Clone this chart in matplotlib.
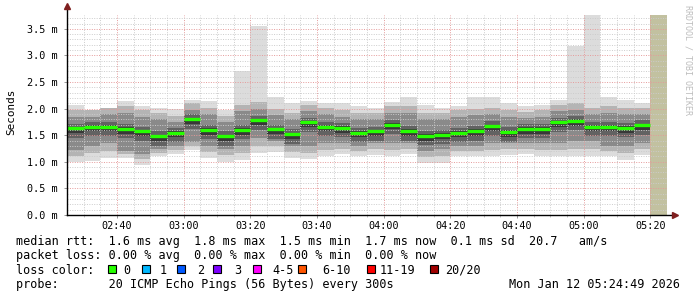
import numpy as np
import matplotlib
matplotlib.use('Agg')
import matplotlib.pyplot as plt
from matplotlib.patches import Rectangle

# smokeping rtt data, 5 minute steps starting 02:25 (values in ms)
rtt_lo = [1.00, 1.02, 1.07, 1.08, 0.94, 1.10, 1.15, 1.22, 1.08, 0.99, 1.03, 1.16,
          1.19, 1.07, 1.05, 1.10, 1.15, 1.10, 1.12, 1.10, 1.15, 0.97, 0.97, 1.10,
          1.10, 1.10, 1.13, 1.15, 1.10, 1.10, 1.10, 1.10, 1.10, 1.03, 1.13]
rtt_q1 = [1.22, 1.30, 1.35, 1.20, 1.15, 1.25, 1.30, 1.38, 1.30, 1.25, 1.30, 1.45,
          1.40, 1.30, 1.30, 1.35, 1.35, 1.30, 1.35, 1.35, 1.35, 1.20, 1.25, 1.30,
          1.30, 1.35, 1.35, 1.35, 1.35, 1.35, 1.40, 1.40, 1.30, 1.30, 1.35]
rtt_med = [1.63, 1.66, 1.66, 1.62, 1.57, 1.48, 1.55, 1.80, 1.60, 1.48, 1.60, 1.78,
           1.61, 1.52, 1.74, 1.66, 1.64, 1.55, 1.57, 1.70, 1.58, 1.49, 1.51, 1.55,
           1.58, 1.67, 1.56, 1.62, 1.62, 1.74, 1.77, 1.66, 1.66, 1.64, 1.69]
rtt_q3 = [1.85, 1.85, 1.90, 1.92, 1.85, 1.80, 1.75, 1.98, 1.90, 1.75, 1.95, 2.00,
          1.88, 1.80, 1.95, 1.90, 1.85, 1.80, 1.80, 1.92, 1.92, 1.80, 1.80, 1.85,
          1.88, 1.90, 1.85, 1.82, 1.85, 1.95, 1.98, 1.90, 1.92, 1.90, 1.90]
rtt_hi = [2.07, 1.97, 2.02, 2.15, 2.05, 2.02, 1.99, 2.17, 2.14, 1.97, 2.71, 3.56,
          2.21, 2.10, 2.14, 2.10, 2.10, 2.04, 2.01, 2.12, 2.21, 2.07, 2.02, 2.04,
          2.21, 2.21, 2.10, 2.04, 2.07, 2.16, 3.18, 3.76, 2.21, 2.16, 2.11]
xtick_labels = ['02:40', '03:00', '03:20', '03:40', '04:00', '04:20', '04:40', '05:00', '05:20']
loss_labels = ['0', '1', '2', '3', '4-5', '6-10', '11-19', '20/20']
loss_colors = ['#26ff00', '#00b8ff', '#0059ff', '#7e00ff', '#ff00ff', '#ff5500', '#ff0000', '#a00000']

W, H = 697, 297
mono = 'DejaVu Sans Mono'

fig = plt.figure(figsize=(W/100, H/100), dpi=100)
fig.patch.set_facecolor('white')
ax = fig.add_axes([67/W, (H-215)/H, 600/W, 200/H])

t0 = 145  # minutes after midnight, 02:25
starts = t0 + 5*np.arange(len(rtt_med))
lo = np.array(rtt_lo); hi = np.array(rtt_hi)
q1 = np.array(rtt_q1); q3 = np.array(rtt_q3); med = np.array(rtt_med)

# smoke layers, light outside -> dark near median
outer_top = np.minimum(hi, q3 + 0.12)
outer_bot = (lo + q1)/2
ax.bar(starts, hi-lo, bottom=lo, width=5, align='edge', color='#dcdcdc', lw=0, zorder=1)
ax.bar(starts, outer_top-outer_bot, bottom=outer_bot, width=5, align='edge', color='#b4b4b4', lw=0, zorder=1)
ax.bar(starts, q3-q1, bottom=q1, width=5, align='edge', color='#8a8a8a', lw=0, zorder=1)
ax.bar(starts, 0.27, bottom=med-0.18, width=5, align='edge', color='#626262', lw=0, zorder=1)
ax.bar(starts, 0.12, bottom=med-0.09, width=5, align='edge', color='#383838', lw=0, zorder=1)
ax.hlines(med, starts, starts+5, color=loss_colors[0], lw=2.4, zorder=4)

# unknown / future area
ax.bar([320], [3.76], width=5, align='edge', color='#c2c1a0', lw=0, zorder=1)

ax.set_xlim(145, 325)
ax.set_ylim(0, 3.76)

# grid (drawn over the smoke, rrdtool style)
for m in range(150, 325, 5):
    c = '#e59a9a' if m % 20 == 0 else '#cccccc'
    ax.axvline(m, color=c, lw=0.7, ls=(0, (1, 1.5)), zorder=3)
for v in np.arange(0.1, 3.76, 0.1):
    c = '#e59a9a' if abs(v*2 - round(v*2)) < 1e-6 else '#cccccc'
    ax.axhline(v, color=c, lw=0.7, ls=(0, (1, 1.5)), zorder=3)

for s in ax.spines.values():
    s.set_visible(False)
ax.plot([145, 145], [0, 3.88], color='black', lw=1, clip_on=False, zorder=5)
ax.plot([145, 327], [0, 0], color='black', lw=1, clip_on=False, zorder=5)
ax.plot([145], [3.92], marker='^', ms=4, color='#7f1f1f', clip_on=False, zorder=6)
ax.plot([327.5], [0], marker='>', ms=4, color='#7f1f1f', clip_on=False, zorder=6)

ax.set_xticks([160 + 20*i for i in range(len(xtick_labels))])
ax.set_xticklabels(xtick_labels, family=mono, fontsize=7.3)
ax.set_xticks(np.arange(150, 325, 5), minor=True)
ax.set_yticks(np.arange(0, 3.6, 0.5))
ax.set_yticklabels(['%.1f m' % v for v in np.arange(0, 3.6, 0.5)], family=mono, fontsize=7.3)
ax.tick_params(axis='both', which='major', length=2, width=0.6, color='#888888', pad=2)
ax.tick_params(axis='both', which='minor', length=1.5, width=0.5, color='#aaaaaa')
ax.tick_params(axis='y', which='major', length=2, pad=5)

fig.text(11/W, 1-112/H, 'Seconds', rotation=90, ha='center', va='center', family=mono, fontsize=7.9)
fig.text(688/W, 1-60/H, 'RRDTOOL / TOBI OETIKER', rotation=270, ha='center', va='center',
         family=mono, fontsize=6.0, color='#bdbdbd')

def line(y, s, x=16, **kw):
    fig.text(x/W, 1-y/H, s, ha='left', va='center', family=mono, fontsize=8.5, **kw)

line(241, 'median rtt:  1.6 ms avg  1.8 ms max  1.5 ms min  1.7 ms now  0.1 ms sd  20.7   am/s')
line(255.5, 'packet loss: 0.00 % avg  0.00 % max  0.00 % min  0.00 % now')
line(270, 'loss color:')
line(284.5, 'probe:       20 ICMP Echo Pings (56 Bytes) every 300s')
fig.text(680/W, 1-284.5/H, 'Mon Jan 12 05:24:49 2026', ha='right', va='center', family=mono, fontsize=8.5)

sq_x = [108, 142, 177, 213, 253, 298, 367, 430]
lab_x = [123, 160, 197, 234, 272, 322, 380, 445]
for sx, lx, lab, col in zip(sq_x, lab_x, loss_labels, loss_colors):
    fig.patches.append(Rectangle((sx/W, 1-272.5/H), 8/W, 8/H, transform=fig.transFigure,
                                 facecolor=col, edgecolor='black', lw=0.8))
    line(270, lab, x=lx)

fig.savefig('out.png', dpi=100)
